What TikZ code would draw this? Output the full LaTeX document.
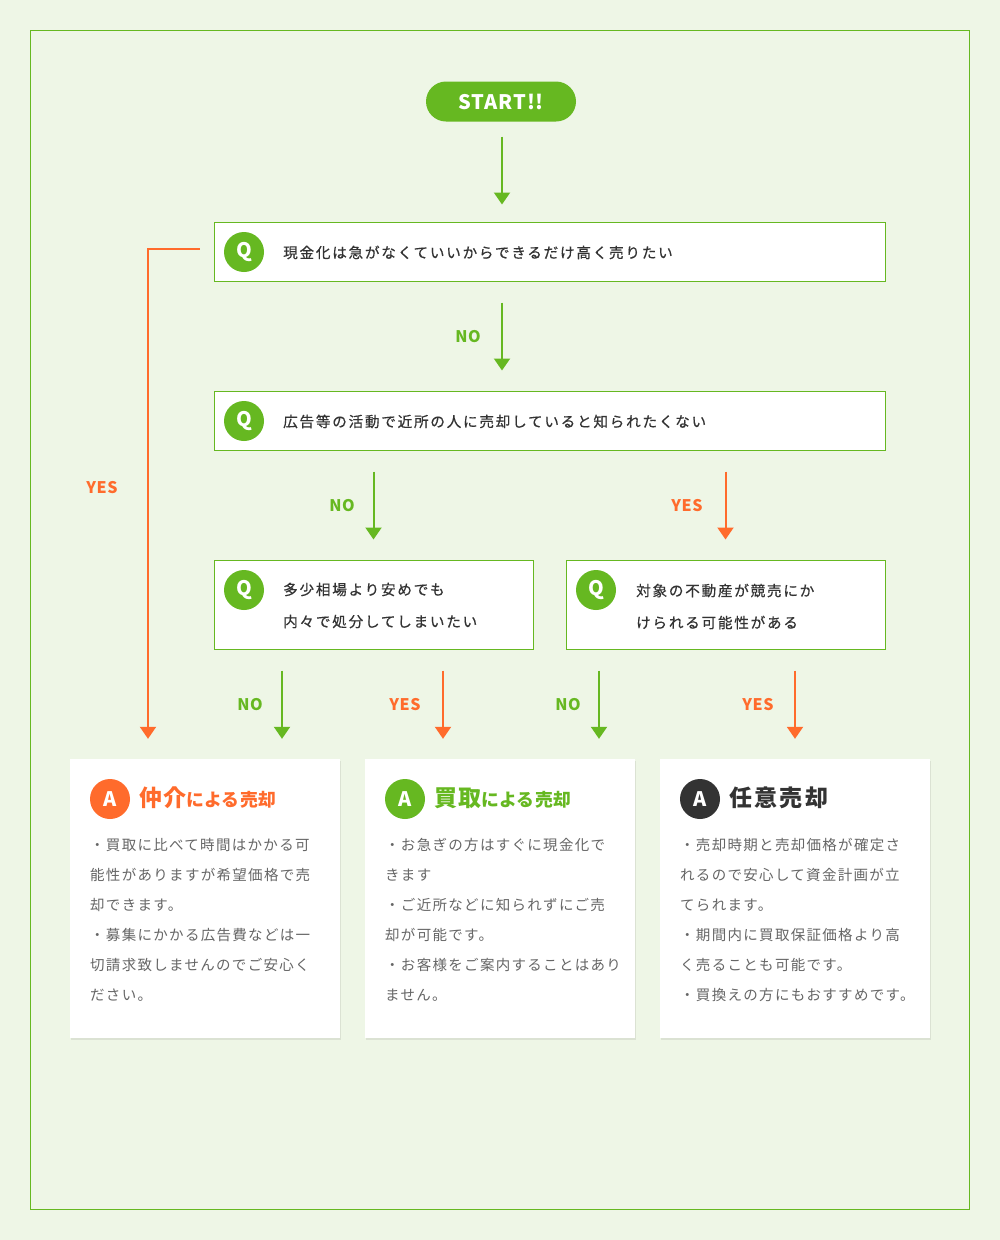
\documentclass[tikz,border=0pt]{standalone}
\usepackage{fontspec}
\setmainfont{Noto Sans CJK JP}
\usetikzlibrary{arrows.meta,calc,shadows}
\definecolor{bg}{HTML}{EEF6E6}
\definecolor{grn}{HTML}{66B821}
\definecolor{org}{HTML}{FF6B2C}
\definecolor{txt}{HTML}{333333}
\definecolor{bodyc}{HTML}{666666}
\definecolor{darkc}{HTML}{333333}
\newcommand\myqfont{\fontsize{14.6}{16}\selectfont\addfontfeature{LetterSpace=12,FakeBold=0.5}}
\newcommand\myqfontb{\fontsize{14.6}{32}\selectfont\addfontfeature{LetterSpace=12,FakeBold=0.5}}
\newcommand\mybodyfont{\fontsize{14.5}{30}\selectfont\addfontfeature{LetterSpace=9}}
\newcommand\mybigt{\fontsize{23}{23}\selectfont\bfseries\addfontfeature{LetterSpace=4}}
\newcommand\mysmallt{\fontsize{17.8}{17.8}\selectfont\bfseries\addfontfeature{LetterSpace=2}}
\begin{document}
\begin{tikzpicture}[x=1pt,y=-1pt,
  startbox/.style={rectangle, rounded corners=20pt, fill=grn, minimum width=150, minimum height=40, inner sep=0, text=white, font=\fontsize{20}{20}\selectfont\bfseries\addfontfeature{LetterSpace=5}},
  qbox/.style={rectangle, draw=grn, line width=1pt, fill=white, inner sep=0},
  qcirc/.style={circle, fill=grn, minimum size=40, inner sep=0, text=white, font=\fontsize{20}{20}\selectfont\bfseries},
  acirc/.style={circle, minimum size=40, inner sep=0, text=white, font=\fontsize{20}{20}\selectfont\bfseries},
  qtext/.style={anchor=west, inner sep=0, text=txt, align=left},
  atitle/.style={anchor=west, inner sep=0},
  card/.style={rectangle, fill=white, minimum width=270, minimum height=279, inner sep=0, drop shadow={shadow xshift=0.5pt, shadow yshift=-1.5pt, fill=black, opacity=0.08}},
  bodytext/.style={anchor=north west, inner sep=0, text=bodyc, align=left, font=\mybodyfont},
  garr/.style={draw=grn, line width=2pt, -{Triangle[width=16pt,length=12pt]}},
  oarr/.style={draw=org, line width=2pt, -{Triangle[width=16pt,length=12pt]}},
  glbl/.style={text=grn, font=\fontsize{16}{16}\selectfont\bfseries\addfontfeature{LetterSpace=4}},
  olbl/.style={text=org, font=\fontsize{16}{16}\selectfont\bfseries\addfontfeature{LetterSpace=4}}
]
\fill[bg] (0,0) rectangle (1000,1240);
\useasboundingbox (0,0) rectangle (1000,1240);
\draw[grn, line width=1.2pt] (30.5,30.5) rectangle (969.5,1209.5);

% start
\node[startbox] (start) at (501,101.5) {START!!};

% questions
\node[qbox, minimum width=671, minimum height=59] (q1) at (549.5,251.5) {};
\node[qcirc] (qc1) at (244,252) {Q};
\node[qtext, font=\myqfont] (qt1) at (283,252.5) {現金化は急がなくていいからできるだけ高く売りたい};

\node[qbox, minimum width=671, minimum height=59] (q2) at (549.5,420.5) {};
\node[qcirc] (qc2) at (244,421) {Q};
\node[qtext, font=\myqfont] (qt2) at (283,421.5) {広告等の活動で近所の人に売却していると知られたくない};

\node[qbox, minimum width=319, minimum height=89] (q3) at (373.5,604.5) {};
\node[qcirc] (qc3) at (244,590) {Q};
\node[qtext, font=\myqfontb] (qt3) at (283,605.5) {多少相場より安めでも\\内々で処分してしまいたい};

\node[qbox, minimum width=319, minimum height=89] (q4) at (725.5,604.5) {};
\node[qcirc] (qc4) at (596,590) {Q};
\node[qtext, font=\myqfontb] (qt4) at (636,606.5) {対象の不動産が競売にか\\けられる可能性がある};

% answer cards
\node[card] (c1) at (205,898.5) {};
\node[card] (c2) at (500,898.5) {};
\node[card] (c3) at (795,898.5) {};

\node[acirc, fill=org] (ac1) at (110,799) {A};
\node[atitle, text=org] (at1) at (139,798) {{\mybigt 仲介}{\mysmallt による売却}};
\node[bodytext] (b1) at (90,838) {・買取に比べて時間はかかる可\\能性がありますが希望価格で売\\却できます。\\・募集にかかる広告費などは一\\切請求致しませんのでご安心く\\ださい。};

\node[acirc, fill=grn] (ac2) at (405,799) {A};
\node[atitle, text=grn] (at2) at (434,798) {{\mybigt 買取}{\mysmallt による売却}};
\node[bodytext] (b2) at (385,838) {・お急ぎの方はすぐに現金化で\\きます\\・ご近所などに知られずにご売\\却が可能です。\\・お客様をご案内することはあり\\ません。};

\node[acirc, fill=darkc] (ac3) at (700,799) {A};
\node[atitle, text=darkc] (at3) at (729,798) {{\fontsize{23}{23}\selectfont\bfseries\addfontfeature{LetterSpace=10}任意売却}};
\node[bodytext] (b3) at (680,838) {・売却時期と売却価格が確定さ\\れるので安心して資金計画が立\\てられます。\\・期間内に買取保証価格より高\\く売ることも可能です。\\・買換えの方にもおすすめです。};

% connectors
\draw[garr, shorten <=15pt, shorten >=17pt] ([xshift=1pt]start.south) -- ([xshift=1pt]start.south |- q1.north);
\draw[garr, shorten <=21pt, shorten >=20pt] (502,0 |- q1.south) -- (502,0 |- q2.north);
\node[glbl] (l1) at (468,337) {NO};

\draw[garr, shorten <=21pt, shorten >=20pt] (q3.north |- q2.south) -- (q3.north);
\node[glbl] (l2) at (342,506) {NO};
\draw[oarr, shorten <=21pt, shorten >=20pt] (q4.north |- q2.south) -- (q4.north);
\node[olbl] (l3) at (687,506) {YES};

\draw[garr, shorten <=21pt, shorten >=20pt] (282,0 |- q3.south) -- (282,0 |- c1.north);
\node[glbl] (l4) at (250,705) {NO};
\draw[oarr, shorten <=21pt, shorten >=20pt] (443,0 |- q3.south) -- (443,0 |- c2.north);
\node[olbl] (l5) at (405,705) {YES};
\draw[garr, shorten <=21pt, shorten >=20pt] (599,0 |- q4.south) -- (599,0 |- c2.north);
\node[glbl] (l6) at (568,705) {NO};
\draw[oarr, shorten <=21pt, shorten >=20pt] (795,0 |- q4.south) -- (c3.north);
\node[olbl] (l7) at (758,705) {YES};

\draw[oarr, shorten >=20pt] ([xshift=-14pt,yshift=2.5pt]q1.west) -| (148,0 |- c1.north);
\node[olbl] (l8) at (102,488) {YES};
\end{tikzpicture}
\end{document}
